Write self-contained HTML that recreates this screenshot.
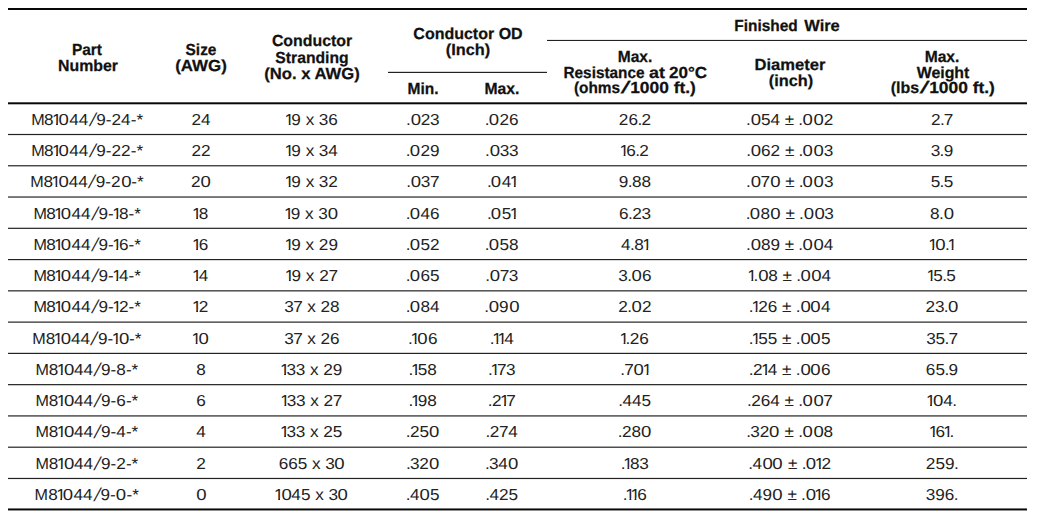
<!DOCTYPE html>
<html><head><meta charset="utf-8"><title>table</title>
<style>
html,body{margin:0;padding:0;background:#fff;}
body{width:1042px;height:515px;position:relative;overflow:hidden;font-family:"Liberation Sans",sans-serif;color:#1a1a1a;text-rendering:geometricPrecision;}
.l{position:absolute;height:1px;}
.t{position:absolute;white-space:nowrap;line-height:20px;height:20px;text-align:center;width:400px;}
.b{font-size:15.9px;color:#222;transform:scaleX(1.0801);}
.b i{font-style:normal;display:inline-block;}
.h{font-size:16.0px;font-weight:bold;color:#111;-webkit-text-stroke:.25px #111;}
.c1{margin:0 -2.62px 0 -1.5px;clip-path:polygon(0 0,100% 0,100% 12px,5.55px 12px,5.55px 20px,3.85px 20px,3.85px 12px,0 12px);}
.c0{margin:0 0.49px;transform:scaleX(1.08);}
.cp{margin:0 -0.54px;}
.cs{margin:0 1.49px;transform:skewX(-15deg) scaleY(1.18);}
.c7{margin:0 -0.30px;}
.cM{margin:0 -0.60px;transform:scaleX(.94);}
.c3{margin:0 -0.16px;}
</style></head><body>
<div class="l" style="left:8.0px;width:1019.4px;top:8px;background:rgb(8,8,8)"></div>
<div class="l" style="left:8.0px;width:1019.4px;top:9px;background:rgb(8,8,8)"></div>
<div class="l" style="left:8.0px;width:1019.4px;top:102px;background:rgb(82,82,82)"></div>
<div class="l" style="left:8.0px;width:1019.4px;top:103px;background:rgb(8,8,8)"></div>
<div class="l" style="left:8.0px;width:1019.4px;top:104px;background:rgb(181,181,181)"></div>
<div class="l" style="left:547.4px;width:480.0px;top:39px;background:rgb(233,233,233)"></div>
<div class="l" style="left:547.4px;width:480.0px;top:40px;background:rgb(34,34,34)"></div>
<div class="l" style="left:388.3px;width:159.1px;top:71px;background:rgb(211,211,211)"></div>
<div class="l" style="left:388.3px;width:159.1px;top:72px;background:rgb(34,34,34)"></div>
<div class="l" style="left:8.0px;width:1019.4px;top:133px;background:rgb(233,233,233)"></div>
<div class="l" style="left:8.0px;width:1019.4px;top:134px;background:rgb(34,34,34)"></div>
<div class="l" style="left:8.0px;width:1019.4px;top:135px;background:rgb(233,233,233)"></div>
<div class="l" style="left:8.0px;width:1019.4px;top:165px;background:rgb(72,72,72)"></div>
<div class="l" style="left:8.0px;width:1019.4px;top:166px;background:rgb(173,173,173)"></div>
<div class="l" style="left:8.0px;width:1019.4px;top:196px;background:rgb(131,131,131)"></div>
<div class="l" style="left:8.0px;width:1019.4px;top:197px;background:rgb(114,114,114)"></div>
<div class="l" style="left:8.0px;width:1019.4px;top:227px;background:rgb(191,191,191)"></div>
<div class="l" style="left:8.0px;width:1019.4px;top:228px;background:rgb(54,54,54)"></div>
<div class="l" style="left:8.0px;width:1019.4px;top:259px;background:rgb(34,34,34)"></div>
<div class="l" style="left:8.0px;width:1019.4px;top:260px;background:rgb(215,215,215)"></div>
<div class="l" style="left:8.0px;width:1019.4px;top:290px;background:rgb(89,89,89)"></div>
<div class="l" style="left:8.0px;width:1019.4px;top:291px;background:rgb(156,156,156)"></div>
<div class="l" style="left:8.0px;width:1019.4px;top:321px;background:rgb(149,149,149)"></div>
<div class="l" style="left:8.0px;width:1019.4px;top:322px;background:rgb(96,96,96)"></div>
<div class="l" style="left:8.0px;width:1019.4px;top:352px;background:rgb(209,209,209)"></div>
<div class="l" style="left:8.0px;width:1019.4px;top:353px;background:rgb(36,36,36)"></div>
<div class="l" style="left:8.0px;width:1019.4px;top:384px;background:rgb(47,47,47)"></div>
<div class="l" style="left:8.0px;width:1019.4px;top:385px;background:rgb(198,198,198)"></div>
<div class="l" style="left:8.0px;width:1019.4px;top:415px;background:rgb(107,107,107)"></div>
<div class="l" style="left:8.0px;width:1019.4px;top:416px;background:rgb(138,138,138)"></div>
<div class="l" style="left:8.0px;width:1019.4px;top:446px;background:rgb(167,167,167)"></div>
<div class="l" style="left:8.0px;width:1019.4px;top:447px;background:rgb(78,78,78)"></div>
<div class="l" style="left:8.0px;width:1019.4px;top:477px;background:rgb(226,226,226)"></div>
<div class="l" style="left:8.0px;width:1019.4px;top:478px;background:rgb(34,34,34)"></div>
<div class="l" style="left:8.0px;width:1019.4px;top:479px;background:rgb(240,240,240)"></div>
<div class="l" style="left:8.0px;width:1019.4px;top:508px;background:rgb(119,119,119)"></div>
<div class="l" style="left:8.0px;width:1019.4px;top:509px;background:rgb(8,8,8)"></div>
<div class="l" style="left:8.0px;width:1019.4px;top:510px;background:rgb(144,144,144)"></div>
<div class="t b" style="left:-113.40px;top:111px;"><i class="cM">M</i>8<i class="c1">1</i><i class="c0">0</i>44<i class="cs">/</i>9-24-*</div>
<div class="t b" style="left:1.00px;top:111px;">24</div>
<div class="t b" style="left:111.60px;top:111px;"><i class="c1">1</i>9 x <i class="c3">3</i>6</div>
<div class="t b" style="left:222.50px;top:111px;"><i class="cp">.</i><i class="c0">0</i>2<i class="c3">3</i></div>
<div class="t b" style="left:302.00px;top:111px;"><i class="cp">.</i><i class="c0">0</i>26</div>
<div class="t b" style="left:435.00px;top:111px;">26<i class="cp">.</i>2</div>
<div class="t b" style="left:590.30px;top:111px;"><i class="cp">.</i><i class="c0">0</i>54 ± <i class="cp">.</i><i class="c0">0</i><i class="c0">0</i>2</div>
<div class="t b" style="left:742.30px;top:111px;">2<i class="cp">.</i><i class="c7">7</i></div>
<div class="t b" style="left:-113.40px;top:142px;"><i class="cM">M</i>8<i class="c1">1</i><i class="c0">0</i>44<i class="cs">/</i>9-22-*</div>
<div class="t b" style="left:1.00px;top:142px;">22</div>
<div class="t b" style="left:111.60px;top:142px;"><i class="c1">1</i>9 x <i class="c3">3</i>4</div>
<div class="t b" style="left:222.50px;top:142px;"><i class="cp">.</i><i class="c0">0</i>29</div>
<div class="t b" style="left:302.00px;top:142px;"><i class="cp">.</i><i class="c0">0</i><i class="c3">3</i><i class="c3">3</i></div>
<div class="t b" style="left:435.00px;top:142px;"><i class="c1">1</i>6<i class="cp">.</i>2</div>
<div class="t b" style="left:590.30px;top:142px;"><i class="cp">.</i><i class="c0">0</i>62 ± <i class="cp">.</i><i class="c0">0</i><i class="c0">0</i><i class="c3">3</i></div>
<div class="t b" style="left:742.30px;top:142px;"><i class="c3">3</i><i class="cp">.</i>9</div>
<div class="t b" style="left:-113.40px;top:173px;"><i class="cM">M</i>8<i class="c1">1</i><i class="c0">0</i>44<i class="cs">/</i>9-2<i class="c0">0</i>-*</div>
<div class="t b" style="left:1.00px;top:173px;">2<i class="c0">0</i></div>
<div class="t b" style="left:111.60px;top:173px;"><i class="c1">1</i>9 x <i class="c3">3</i>2</div>
<div class="t b" style="left:222.50px;top:173px;"><i class="cp">.</i><i class="c0">0</i><i class="c3">3</i><i class="c7">7</i></div>
<div class="t b" style="left:302.00px;top:173px;"><i class="cp">.</i><i class="c0">0</i>4<i class="c1">1</i></div>
<div class="t b" style="left:435.00px;top:173px;">9<i class="cp">.</i>88</div>
<div class="t b" style="left:590.30px;top:173px;"><i class="cp">.</i><i class="c0">0</i><i class="c7">7</i><i class="c0">0</i> ± <i class="cp">.</i><i class="c0">0</i><i class="c0">0</i><i class="c3">3</i></div>
<div class="t b" style="left:742.30px;top:173px;">5<i class="cp">.</i>5</div>
<div class="t b" style="left:-113.40px;top:205px;"><i class="cM">M</i>8<i class="c1">1</i><i class="c0">0</i>44<i class="cs">/</i>9-<i class="c1">1</i>8-*</div>
<div class="t b" style="left:1.00px;top:205px;"><i class="c1">1</i>8</div>
<div class="t b" style="left:111.60px;top:205px;"><i class="c1">1</i>9 x <i class="c3">3</i><i class="c0">0</i></div>
<div class="t b" style="left:222.50px;top:205px;"><i class="cp">.</i><i class="c0">0</i>46</div>
<div class="t b" style="left:302.00px;top:205px;"><i class="cp">.</i><i class="c0">0</i>5<i class="c1">1</i></div>
<div class="t b" style="left:435.00px;top:205px;">6<i class="cp">.</i>2<i class="c3">3</i></div>
<div class="t b" style="left:590.30px;top:205px;"><i class="cp">.</i><i class="c0">0</i>8<i class="c0">0</i> ± <i class="cp">.</i><i class="c0">0</i><i class="c0">0</i><i class="c3">3</i></div>
<div class="t b" style="left:742.30px;top:205px;">8<i class="cp">.</i><i class="c0">0</i></div>
<div class="t b" style="left:-113.40px;top:236px;"><i class="cM">M</i>8<i class="c1">1</i><i class="c0">0</i>44<i class="cs">/</i>9-<i class="c1">1</i>6-*</div>
<div class="t b" style="left:1.00px;top:236px;"><i class="c1">1</i>6</div>
<div class="t b" style="left:111.60px;top:236px;"><i class="c1">1</i>9 x 29</div>
<div class="t b" style="left:222.50px;top:236px;"><i class="cp">.</i><i class="c0">0</i>52</div>
<div class="t b" style="left:302.00px;top:236px;"><i class="cp">.</i><i class="c0">0</i>58</div>
<div class="t b" style="left:435.00px;top:236px;">4<i class="cp">.</i>8<i class="c1">1</i></div>
<div class="t b" style="left:590.30px;top:236px;"><i class="cp">.</i><i class="c0">0</i>89 ± <i class="cp">.</i><i class="c0">0</i><i class="c0">0</i>4</div>
<div class="t b" style="left:742.30px;top:236px;"><i class="c1">1</i><i class="c0">0</i><i class="cp">.</i><i class="c1">1</i></div>
<div class="t b" style="left:-113.40px;top:267px;"><i class="cM">M</i>8<i class="c1">1</i><i class="c0">0</i>44<i class="cs">/</i>9-<i class="c1">1</i>4-*</div>
<div class="t b" style="left:1.00px;top:267px;"><i class="c1">1</i>4</div>
<div class="t b" style="left:111.60px;top:267px;"><i class="c1">1</i>9 x 2<i class="c7">7</i></div>
<div class="t b" style="left:222.50px;top:267px;"><i class="cp">.</i><i class="c0">0</i>65</div>
<div class="t b" style="left:302.00px;top:267px;"><i class="cp">.</i><i class="c0">0</i><i class="c7">7</i><i class="c3">3</i></div>
<div class="t b" style="left:435.00px;top:267px;"><i class="c3">3</i><i class="cp">.</i><i class="c0">0</i>6</div>
<div class="t b" style="left:590.30px;top:267px;"><i class="c1">1</i><i class="cp">.</i><i class="c0">0</i>8 ± <i class="cp">.</i><i class="c0">0</i><i class="c0">0</i>4</div>
<div class="t b" style="left:742.30px;top:267px;"><i class="c1">1</i>5<i class="cp">.</i>5</div>
<div class="t b" style="left:-113.40px;top:298px;"><i class="cM">M</i>8<i class="c1">1</i><i class="c0">0</i>44<i class="cs">/</i>9-<i class="c1">1</i>2-*</div>
<div class="t b" style="left:1.00px;top:298px;"><i class="c1">1</i>2</div>
<div class="t b" style="left:111.60px;top:298px;"><i class="c3">3</i><i class="c7">7</i> x 28</div>
<div class="t b" style="left:222.50px;top:298px;"><i class="cp">.</i><i class="c0">0</i>84</div>
<div class="t b" style="left:302.00px;top:298px;"><i class="cp">.</i><i class="c0">0</i>9<i class="c0">0</i></div>
<div class="t b" style="left:435.00px;top:298px;">2<i class="cp">.</i><i class="c0">0</i>2</div>
<div class="t b" style="left:590.30px;top:298px;"><i class="cp">.</i><i class="c1">1</i>26 ± <i class="cp">.</i><i class="c0">0</i><i class="c0">0</i>4</div>
<div class="t b" style="left:742.30px;top:298px;">2<i class="c3">3</i><i class="cp">.</i><i class="c0">0</i></div>
<div class="t b" style="left:-113.40px;top:330px;"><i class="cM">M</i>8<i class="c1">1</i><i class="c0">0</i>44<i class="cs">/</i>9-<i class="c1">1</i><i class="c0">0</i>-*</div>
<div class="t b" style="left:1.00px;top:330px;"><i class="c1">1</i><i class="c0">0</i></div>
<div class="t b" style="left:111.60px;top:330px;"><i class="c3">3</i><i class="c7">7</i> x 26</div>
<div class="t b" style="left:222.50px;top:330px;"><i class="cp">.</i><i class="c1">1</i><i class="c0">0</i>6</div>
<div class="t b" style="left:302.00px;top:330px;"><i class="cp">.</i><i class="c1">1</i><i class="c1">1</i>4</div>
<div class="t b" style="left:435.00px;top:330px;"><i class="c1">1</i><i class="cp">.</i>26</div>
<div class="t b" style="left:590.30px;top:330px;"><i class="cp">.</i><i class="c1">1</i>55 ± <i class="cp">.</i><i class="c0">0</i><i class="c0">0</i>5</div>
<div class="t b" style="left:742.30px;top:330px;"><i class="c3">3</i>5<i class="cp">.</i><i class="c7">7</i></div>
<div class="t b" style="left:-113.40px;top:361px;"><i class="cM">M</i>8<i class="c1">1</i><i class="c0">0</i>44<i class="cs">/</i>9-8-*</div>
<div class="t b" style="left:1.00px;top:361px;">8</div>
<div class="t b" style="left:111.60px;top:361px;"><i class="c1">1</i><i class="c3">3</i><i class="c3">3</i> x 29</div>
<div class="t b" style="left:222.50px;top:361px;"><i class="cp">.</i><i class="c1">1</i>58</div>
<div class="t b" style="left:302.00px;top:361px;"><i class="cp">.</i><i class="c1">1</i><i class="c7">7</i><i class="c3">3</i></div>
<div class="t b" style="left:435.00px;top:361px;"><i class="cp">.</i><i class="c7">7</i><i class="c0">0</i><i class="c1">1</i></div>
<div class="t b" style="left:590.30px;top:361px;"><i class="cp">.</i>2<i class="c1">1</i>4 ± <i class="cp">.</i><i class="c0">0</i><i class="c0">0</i>6</div>
<div class="t b" style="left:742.30px;top:361px;">65<i class="cp">.</i>9</div>
<div class="t b" style="left:-113.40px;top:392px;"><i class="cM">M</i>8<i class="c1">1</i><i class="c0">0</i>44<i class="cs">/</i>9-6-*</div>
<div class="t b" style="left:1.00px;top:392px;">6</div>
<div class="t b" style="left:111.60px;top:392px;"><i class="c1">1</i><i class="c3">3</i><i class="c3">3</i> x 2<i class="c7">7</i></div>
<div class="t b" style="left:222.50px;top:392px;"><i class="cp">.</i><i class="c1">1</i>98</div>
<div class="t b" style="left:302.00px;top:392px;"><i class="cp">.</i>2<i class="c1">1</i><i class="c7">7</i></div>
<div class="t b" style="left:435.00px;top:392px;"><i class="cp">.</i>445</div>
<div class="t b" style="left:590.30px;top:392px;"><i class="cp">.</i>264 ± <i class="cp">.</i><i class="c0">0</i><i class="c0">0</i><i class="c7">7</i></div>
<div class="t b" style="left:742.30px;top:392px;"><i class="c1">1</i><i class="c0">0</i>4<i class="cp">.</i></div>
<div class="t b" style="left:-113.40px;top:423px;"><i class="cM">M</i>8<i class="c1">1</i><i class="c0">0</i>44<i class="cs">/</i>9-4-*</div>
<div class="t b" style="left:1.00px;top:423px;">4</div>
<div class="t b" style="left:111.60px;top:423px;"><i class="c1">1</i><i class="c3">3</i><i class="c3">3</i> x 25</div>
<div class="t b" style="left:222.50px;top:423px;"><i class="cp">.</i>25<i class="c0">0</i></div>
<div class="t b" style="left:302.00px;top:423px;"><i class="cp">.</i>2<i class="c7">7</i>4</div>
<div class="t b" style="left:435.00px;top:423px;"><i class="cp">.</i>28<i class="c0">0</i></div>
<div class="t b" style="left:590.30px;top:423px;"><i class="cp">.</i><i class="c3">3</i>2<i class="c0">0</i> ± <i class="cp">.</i><i class="c0">0</i><i class="c0">0</i>8</div>
<div class="t b" style="left:742.30px;top:423px;"><i class="c1">1</i>6<i class="c1">1</i><i class="cp">.</i></div>
<div class="t b" style="left:-113.40px;top:455px;"><i class="cM">M</i>8<i class="c1">1</i><i class="c0">0</i>44<i class="cs">/</i>9-2-*</div>
<div class="t b" style="left:1.00px;top:455px;">2</div>
<div class="t b" style="left:111.60px;top:455px;">665 x <i class="c3">3</i><i class="c0">0</i></div>
<div class="t b" style="left:222.50px;top:455px;"><i class="cp">.</i><i class="c3">3</i>2<i class="c0">0</i></div>
<div class="t b" style="left:302.00px;top:455px;"><i class="cp">.</i><i class="c3">3</i>4<i class="c0">0</i></div>
<div class="t b" style="left:435.00px;top:455px;"><i class="cp">.</i><i class="c1">1</i>8<i class="c3">3</i></div>
<div class="t b" style="left:590.30px;top:455px;"><i class="cp">.</i>4<i class="c0">0</i><i class="c0">0</i> ± <i class="cp">.</i><i class="c0">0</i><i class="c1">1</i>2</div>
<div class="t b" style="left:742.30px;top:455px;">259<i class="cp">.</i></div>
<div class="t b" style="left:-113.40px;top:486px;"><i class="cM">M</i>8<i class="c1">1</i><i class="c0">0</i>44<i class="cs">/</i>9-<i class="c0">0</i>-*</div>
<div class="t b" style="left:1.00px;top:486px;"><i class="c0">0</i></div>
<div class="t b" style="left:111.60px;top:486px;"><i class="c1">1</i><i class="c0">0</i>45 x <i class="c3">3</i><i class="c0">0</i></div>
<div class="t b" style="left:222.50px;top:486px;"><i class="cp">.</i>4<i class="c0">0</i>5</div>
<div class="t b" style="left:302.00px;top:486px;"><i class="cp">.</i>425</div>
<div class="t b" style="left:435.00px;top:486px;"><i class="cp">.</i><i class="c1">1</i><i class="c1">1</i>6</div>
<div class="t b" style="left:590.30px;top:486px;"><i class="cp">.</i>49<i class="c0">0</i> ± <i class="cp">.</i><i class="c0">0</i><i class="c1">1</i>6</div>
<div class="t b" style="left:742.30px;top:486px;"><i class="c3">3</i>96<i class="cp">.</i></div>
<div class="t h" style="left:-112.70px;top:41px;transform:scaleX(0.9639);">Part</div>
<div class="t h" style="left:-112.10px;top:57px;transform:scaleX(0.9925);">Number</div>
<div class="t h" style="left:1.00px;top:41px;transform:scaleX(0.9652);">Size</div>
<div class="t h" style="left:1.40px;top:57px;transform:scaleX(1.0578);">(AWG)</div>
<div class="t h" style="left:112.40px;top:32px;transform:scaleX(0.9917);">Conductor</div>
<div class="t h" style="left:112.20px;top:49px;transform:scaleX(0.9816);">Stranding</div>
<div class="t h" style="left:112.20px;top:65px;transform:scaleX(1.0398);">(No. x AWG)</div>
<div class="t h" style="left:268.00px;top:25px;transform:scaleX(0.9997);">Conductor OD</div>
<div class="t h" style="left:268.00px;top:41px;transform:scaleX(1.0196);">(Inch)</div>
<div class="t h" style="left:223.00px;top:80px;transform:scaleX(0.9688);">Min.</div>
<div class="t h" style="left:302.20px;top:80px;transform:scaleX(0.9809);">Max.</div>
<div class="t h" style="left:566.40px;top:17px;transform:scaleX(0.9638);">Finished</div>
<div class="t h" style="left:621.65px;top:17px;transform:scaleX(1.0281);">Wire</div>
<div class="t h" style="left:435.20px;top:48px;transform:scaleX(0.9697);">Max.</div>
<div class="t h" style="left:403.75px;top:64px;transform:scaleX(0.9586);">Resistance</div>
<div class="t h" style="left:456.85px;top:64px;transform:scaleX(1.1170);">at</div>
<div class="t h" style="left:487.65px;top:64px;transform:scaleX(1.0657);">20°C</div>
<div class="t h" style="left:397.30px;top:79px;transform:scaleX(0.9625);">(ohms</div>
<div class="t h" style="left:425.20px;top:79px;transform:skewX(-20deg) scale(1.35,1.05);">/</div>
<div class="t h" style="left:463.10px;top:79px;transform:scaleX(1.0849);">1000 ft.)</div>
<div class="t h" style="left:590.30px;top:56px;transform:scaleX(1.0353);">Diameter</div>
<div class="t h" style="left:590.50px;top:72px;transform:scaleX(1.0196);">(inch)</div>
<div class="t h" style="left:742.30px;top:48px;transform:scaleX(0.9753);">Max.</div>
<div class="t h" style="left:743.00px;top:64px;transform:scaleX(0.9919);">Weight</div>
<div class="t h" style="left:704.80px;top:79px;transform:scaleX(0.9981);">(lbs</div>
<div class="t h" style="left:723.50px;top:79px;transform:skewX(-20deg) scale(1.35,1.05);">/</div>
<div class="t h" style="left:761.65px;top:79px;transform:scaleX(1.0865);">1000 ft.)</div>
</body></html>
